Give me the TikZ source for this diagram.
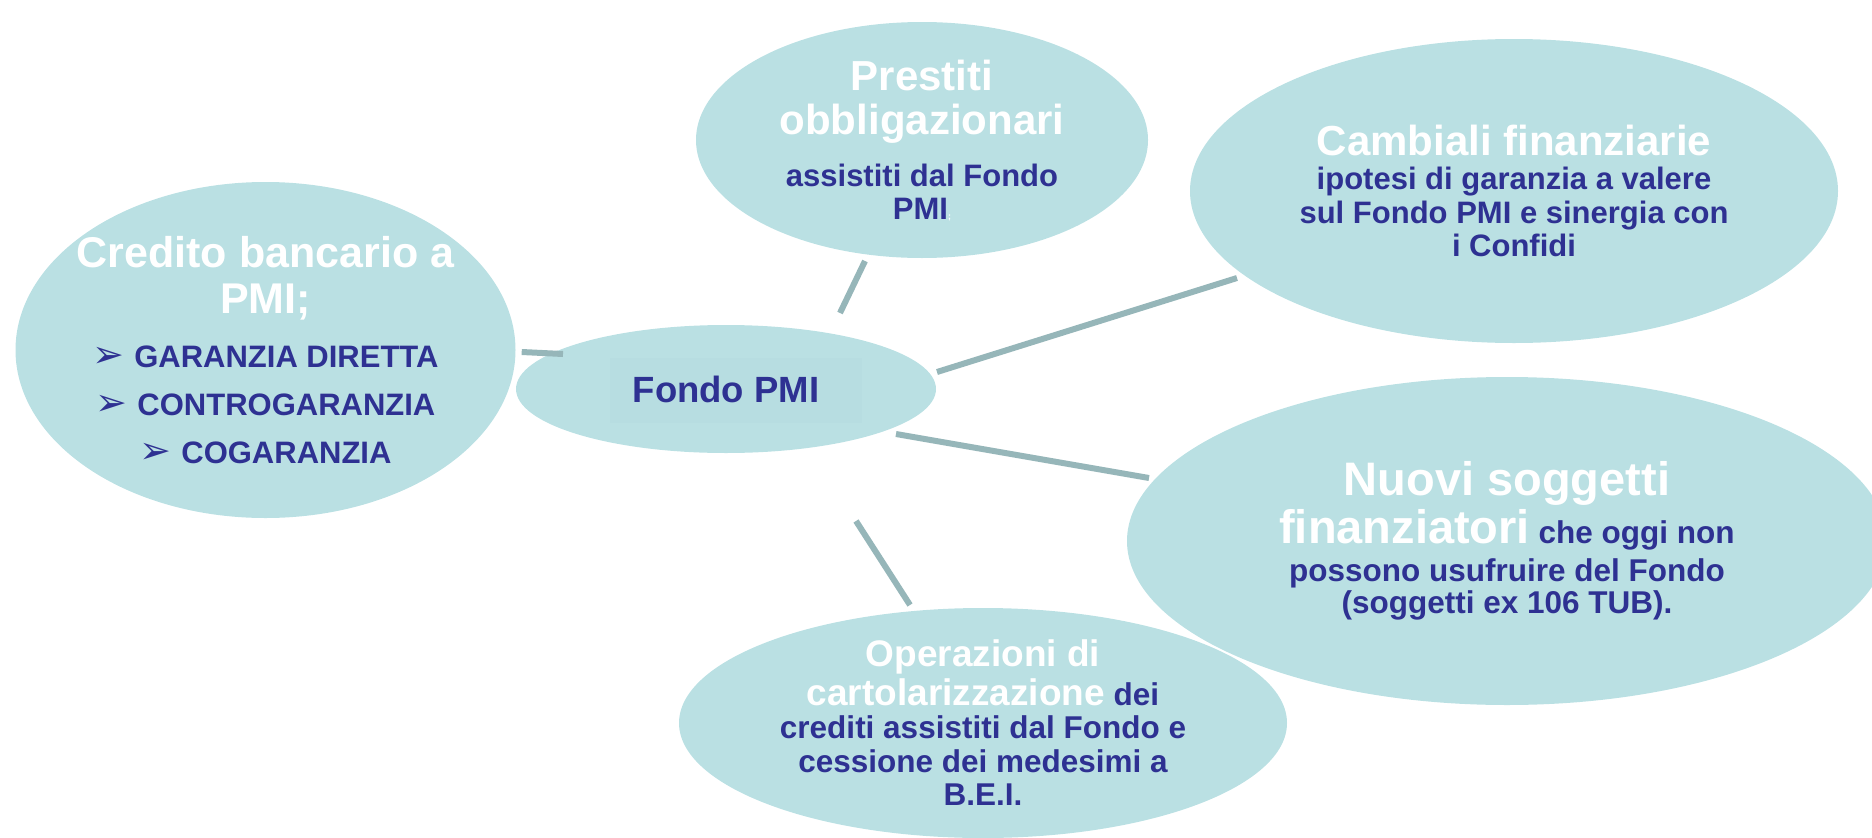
\documentclass[tikz,border=0pt]{standalone}
\usepackage{fontspec}
\setmainfont{Liberation Sans}
\newfontfamily\dingfont{DejaVu Sans}
\usetikzlibrary{shapes.geometric, calc}

\definecolor{bubblefill}{RGB}{186,224,227}
\definecolor{boxtint}{RGB}{183,221,225}
\definecolor{stem}{RGB}{150,182,185}
\definecolor{ink}{RGB}{46,49,146}

\newcommand{\fs}[2]{\fontsize{#1}{#2}\selectfont}
\newcommand{\tight}{\lineskiplimit=-\maxdimen}
\newcommand{\wt}[2]{{\fs{#1}{#1}\color{white}#2}}
\newcommand{\bul}{{\dingfont\fs{38}{38}\char"27A2}\hspace{10pt}}

\begin{document}
\begin{tikzpicture}[x=1pt, y=-1pt,
  bubble/.style={ellipse, fill=bubblefill, inner sep=-80pt, align=center, text=ink},
  link/.style={draw=stem, line width=6pt}]
  \useasboundingbox (0,0) rectangle (1872,838);

  \node[bubble, minimum width=500pt, minimum height=336pt, font=\bfseries\fs{31}{48}\tight] (credito) at (265.5,350)
    {\wt{43}{Credito bancario a}\\[-2pt] \wt{43}{PMI;}\\[6pt]
     \bul GARANZIA DIRETTA\\ \bul CONTROGARANZIA\\ \bul COGARANZIA};
  \node[bubble, minimum width=420pt, minimum height=128pt, font=\bfseries\fs{36.5}{40},
    path picture={\fill[boxtint] ($(path picture bounding box.center)+(-116,-31)$) rectangle +(252,65);}] (fondo) at (726,389) {Fondo PMI};
  \node[bubble, minimum width=452pt, minimum height=236pt, font=\bfseries\fs{31}{33}\tight] (prestiti) at (922,140)
    {\wt{42}{Prestiti}\\[11pt] \wt{42}{obbligazionari}\\[19pt]
     assistiti dal Fondo\\ PMI{\fs{9}{9}\color{white};}};
  \node[bubble, minimum width=648pt, minimum height=304pt, font=\bfseries\fs{31}{33}\tight] (cambiali) at (1514,191)
    {\wt{42}{Cambiali finanziarie}\\[1pt] ipotesi di garanzia a valere\\[1pt]
     sul Fondo PMI e sinergia con\\ i Confidi};
  \node[bubble, minimum width=608pt, minimum height=230pt, font=\bfseries\fs{31.5}{33}\tight] (operazioni) at (983,723)
    {\wt{37}{Operazioni di}\\[6pt] \wt{37}{cartolarizzazione} dei\\
     crediti assistiti dal Fondo e\\[1pt] cessione dei medesimi a\\ B.E.I.};
  \node[bubble, minimum width=760pt, minimum height=328pt, font=\bfseries\fs{31.5}{33}\tight] (nuovi) at (1507,541)
    {\wt{47}{Nuovi soggetti}\\[15pt] \wt{47}{finanziatori} che oggi non\\[5pt]
     possono usufruire del Fondo\\[-1pt] (soggetti ex 106 TUB).};

  \path[link]
  ($(credito.east)+(6,2)$) edge ($(fondo.center)+(-163,-35)$)
  ($(prestiti.center)+(-57,121)$) edge ($(fondo.center)+(114,-76)$)
  ($(fondo.center)+(211,-17)$) edge ($(cambiali.center)+(-277,87)$)
  ($(fondo.center)+(170,45)$) edge ($(nuovi.center)+(-358,-63)$)
  ($(fondo.center)+(130,132)$) edge ($(operazioni.center)+(-73,-118)$);
\end{tikzpicture}
\end{document}
